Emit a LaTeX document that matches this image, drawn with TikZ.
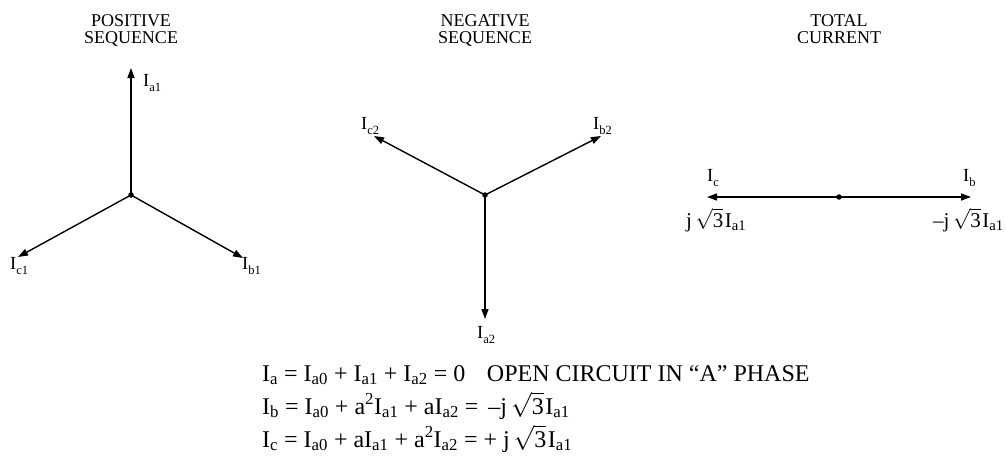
\documentclass[tikz,border=0pt]{standalone}
\usepackage{fontspec}
\setmainfont{Liberation Serif}
\usetikzlibrary{arrows.meta}
\newcommand{\Isb}[1]{I\textsubscript{#1}}
\newcommand{\Lsb}[1]{I\raisebox{-5pt}{\fontsize{12.5}{13}\selectfont #1}}
\newcommand{\rthree}{\smash{$\sqrt{\mbox{3}}$}}
\tikzset{
  phasor/.style={line width=1.4pt,-{Triangle[length=10pt,width=7pt]}},
  hub/.style={circle,fill=black,inner sep=0pt,minimum size=5.5pt},
  ttl/.style={font=\fontsize{18}{18}\selectfont,inner sep=0pt,anchor=base},
  lbl/.style={font=\fontsize{18.5}{19}\selectfont,inner sep=0pt,anchor=base west},
  tlbl/.style={font=\fontsize{21}{24}\selectfont,inner sep=0pt,anchor=base west},
  eqn/.style={font=\fontsize{24}{28}\selectfont,inner sep=0pt,anchor=base west}
}
\begin{document}
\begin{tikzpicture}[x=1pt,y=1pt]
\useasboundingbox (0,0) rectangle (1006,-455);
% titles
\node[ttl] (t1a) at (131,-26) {POSITIVE};
\node[ttl] (t1b) at (131,-43) {SEQUENCE};
\node[ttl] (t2a) at (485,-26) {NEGATIVE};
\node[ttl] (t2b) at (485,-43) {SEQUENCE};
\node[ttl] (t3a) at (839,-26) {TOTAL};
\node[ttl] (t3b) at (839,-43) {CURRENT};
% positive sequence
\node[hub] (o1) at (131,-195) {};
\coordinate (a1) at (131,-68);
\coordinate (b1) at (243,-258);
\coordinate (c1) at (18,-257);
\draw[phasor] (o1.center) -- (a1);
\draw[phasor] (o1.center) -- (b1);
\draw[phasor] (o1.center) -- (c1);
\node[lbl] (la1) at (143,-86) {\Lsb{a1}};
\node[lbl] (lc1) at (10,-269) {\Lsb{c1}};
\node[lbl] (lb1) at (242,-269) {\Lsb{b1}};
% negative sequence
\node[hub] (o2) at (485,-195) {};
\coordinate (a2) at (485,-319);
\coordinate (b2) at (601,-136);
\coordinate (c2) at (374,-136);
\draw[phasor] (o2.center) -- (a2);
\draw[phasor] (o2.center) -- (b2);
\draw[phasor] (o2.center) -- (c2);
\node[lbl] (la2) at (477,-338) {\Lsb{a2}};
\node[lbl] (lc2) at (361,-129) {\Lsb{c2}};
\node[lbl] (lb2) at (593,-129) {\Lsb{b2}};
% total current
\node[hub] (o3) at (839,-197) {};
\coordinate (bt) at (971,-197);
\coordinate (ct) at (707,-197);
\draw[phasor] (o3.center) -- (bt);
\draw[phasor] (o3.center) -- (ct);
\node[lbl] (lct) at (707,-181) {\Lsb{c}};
\node[lbl] (lbt) at (963,-181) {\Lsb{b}};
\node[tlbl] (vc) at (686,-227) {j\,\rthree\hspace{1.5pt}\Isb{a1}};
\node[tlbl] (vb) at (933,-227) {–j\,\rthree\hspace{1.5pt}\Isb{a1}};
% equations
\node[eqn] (eq1) at (262,-381) {\Isb{a} = \Isb{a0} + \Isb{a1} + \Isb{a2} = 0\hspace{0.9em}OPEN CIRCUIT IN “A” PHASE};
\node[eqn] (eq2) at (262,-414) {\Isb{b} = \Isb{a0} + a\textsuperscript{2}\Isb{a1} + a\Isb{a2} = \,–j\,\rthree\hspace{1.5pt}\Isb{a1}};
\node[eqn] (eq3) at (262,-447) {\Isb{c} = \Isb{a0} + a\Isb{a1} + a\textsuperscript{2}\Isb{a2} = + j\,\rthree\hspace{1.5pt}\Isb{a1}};
\end{tikzpicture}
\end{document}
